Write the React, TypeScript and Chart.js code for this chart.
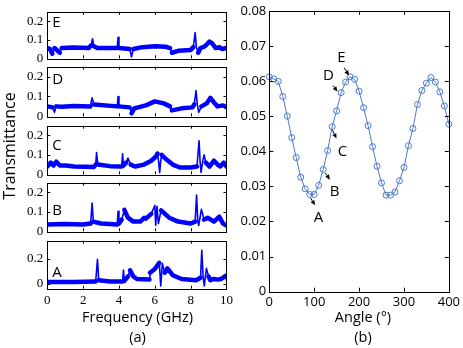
import React, { useEffect, useRef } from 'react';
import { Chart, registerables } from 'chart.js';
Chart.register(...registerables);

const W = 463;
const H = 348;
const SANS = 'Open Sans';
const SERIF = 'Liberation Serif';
const BLUE = '#0000ff';
const LIGHT = '#4a78d2';

// ---- Panel (a): transmittance spectra, frequency in GHz ----
const freqE = [0, 0.15, 0.28, 0.4, 0.7, 0.8, 1.5, 2.3, 2.45, 2.52, 2.6, 2.8, 3.9, 3.95, 4.0, 4.6, 4.7, 4.8, 5.3, 6.0, 6.6, 6.85, 6.95, 7.3, 8.0, 8.15, 8.25, 8.32, 8.42, 8.55, 8.8, 9.05, 9.2, 9.4, 9.6, 9.75, 10];
const transE = [0.055, 0.05, 0.025, 0.055, 0.03, 0.055, 0.058, 0.055, 0.07, 0.105, 0.065, 0.055, 0.055, 0.113, 0.055, 0.05, 0.008, 0.05, 0.06, 0.065, 0.062, 0.055, 0.03, 0.04, 0.045, 0.06, 0.138, 0.06, 0.03, 0.055, 0.065, 0.09, 0.08, 0.055, 0.06, 0.05, 0.055];

const freqD = [0, 0.3, 0.4, 0.5, 0.8, 1.5, 2.4, 2.5, 2.6, 3.9, 3.95, 4.0, 4.6, 4.7, 4.85, 5.5, 6.0, 6.5, 6.85, 6.95, 7.5, 8.1, 8.2, 8.3, 8.37, 8.45, 8.6, 8.9, 9.1, 9.3, 9.5, 9.8, 10];
const transD = [0.05, 0.045, 0.02, 0.05, 0.048, 0.052, 0.05, 0.093, 0.06, 0.05, 0.1, 0.05, 0.045, 0.015, 0.04, 0.055, 0.075, 0.065, 0.05, 0.03, 0.04, 0.045, 0.06, 0.13, 0.06, 0.02, 0.05, 0.065, 0.093, 0.07, 0.05, 0.055, 0.045];

const freqC = [0, 0.2, 0.35, 0.5, 0.7, 1.0, 1.5, 2.6, 2.7, 2.75, 2.82, 3.5, 4.15, 4.2, 4.25, 4.4, 4.5, 4.65, 4.9, 5.4, 5.8, 6.05, 6.15, 6.22, 6.27, 6.32, 6.38, 6.6, 7.0, 7.4, 8.0, 8.35, 8.47, 8.53, 8.58, 8.66, 8.75, 8.85, 9.05, 9.3, 9.5, 9.65, 9.85, 10];
const transC = [0.04, 0.06, 0.045, 0.065, 0.045, 0.045, 0.04, 0.038, 0.05, 0.112, 0.05, 0.042, 0.04, 0.105, 0.045, 0.06, 0.083, 0.05, 0.04, 0.05, 0.07, 0.09, 0.107, 0.06, 0.008, 0.06, 0.1, 0.08, 0.05, 0.035, 0.035, 0.04, 0.172, 0.06, 0.01, 0.06, 0.1, 0.06, 0.04, 0.07, 0.05, 0.04, 0.06, 0.04];

const freqB = [0, 1.0, 2.0, 2.42, 2.5, 2.57, 3.0, 3.9, 3.95, 4.0, 4.15, 4.3, 4.5, 4.8, 5.2, 5.4, 5.5, 5.8, 6.0, 6.05, 6.12, 6.2, 6.35, 6.8, 7.3, 8.0, 8.25, 8.33, 8.4, 8.45, 8.6, 8.75, 8.95, 9.3, 9.6, 9.8, 10];
const transB = [0.035, 0.037, 0.035, 0.04, 0.145, 0.05, 0.04, 0.035, 0.103, 0.04, 0.06, 0.11, 0.07, 0.05, 0.05, 0.07, 0.065, 0.09, 0.133, 0.03, 0.128, 0.04, 0.108, 0.07, 0.05, 0.04, 0.05, 0.187, 0.05, 0.03, 0.113, 0.06, 0.07, 0.05, 0.075, 0.04, 0.03];

const freqA = [0, 1.5, 2.7, 2.8, 2.87, 3.5, 4.2, 4.25, 4.3, 4.5, 4.62, 4.8, 5.0, 5.7, 5.73, 6.0, 6.25, 6.33, 6.42, 6.55, 6.7, 7.0, 7.5, 8.3, 8.55, 8.62, 8.7, 8.76, 8.88, 9.0, 9.1, 9.3, 9.5, 9.7, 9.93, 10];
const transA = [0.015, 0.015, 0.02, 0.197, 0.03, 0.02, 0.02, 0.112, 0.025, 0.06, 0.11, 0.06, 0.04, 0.035, 0.09, 0.12, 0.17, -0.015, 0.165, 0.09, 0.125, 0.07, 0.04, 0.03, 0.05, 0.27, 0.05, -0.015, 0.125, 0.06, 0.03, 0.04, 0.035, 0.04, 0.064, 0.03];

const freqTicks = [0, 2, 4, 6, 8, 10];

// ---- Panel (b): transmittance vs angle ----
const angles = [0, 10, 20, 30, 40, 50, 60, 70, 80, 90, 100, 110, 120, 130, 140, 150, 160, 170, 180, 190, 200, 210, 220, 230, 240, 250, 260, 270, 280, 290, 300, 310, 320, 330, 340, 350, 360, 370, 380, 390, 400];
const angleTrans = [0.0612, 0.0606, 0.0599, 0.0556, 0.05, 0.0439, 0.0382, 0.0326, 0.0293, 0.0277, 0.0277, 0.0303, 0.0348, 0.0402, 0.047, 0.0515, 0.0567, 0.0597, 0.0612, 0.0605, 0.0571, 0.0524, 0.0473, 0.0413, 0.0357, 0.031, 0.0275, 0.0275, 0.0284, 0.0316, 0.0354, 0.0416, 0.0465, 0.0533, 0.0573, 0.0594, 0.061, 0.0597, 0.0569, 0.0529, 0.0477];

const markLabels = ['A', 'B', 'C', 'D', 'E'];
const markLabelAngle = [109.4, 145.3, 162.9, 132, 160.6];
const markLabelValue = [0.0211, 0.0284, 0.04, 0.0614, 0.0666];
const arrowFromAngle = [91.7, 124.8, 140.8, 142, 166.6];
const arrowFromValue = [0.0267, 0.0338, 0.046, 0.0587, 0.0638];
const arrowToAngle = [102.1, 135.1, 149.6, 152, 177.6];
const arrowToValue = [0.0246, 0.0319, 0.0436, 0.057, 0.0616];

// ---- plugins ----
const boxPlugin = {
  id: 'box',
  afterDraw(chart: any, _a: any, opts: any) {
    const { ctx, chartArea: a, scales } = chart;
    const L = opts.len || 3;
    ctx.save();
    ctx.strokeStyle = '#000';
    ctx.lineWidth = 1;
    ctx.beginPath();
    const sx = scales.x;
    for (const t of sx.ticks) {
      const px = Math.round(sx.getPixelForValue(t.value)) + 0.5;
      if (px <= a.left + 1.5 || px >= a.right - 1.5) continue;
      ctx.moveTo(px, a.bottom);
      ctx.lineTo(px, a.bottom - L);
      ctx.moveTo(px, a.top);
      ctx.lineTo(px, a.top + L);
    }
    const sy = scales.y;
    for (const t of sy.ticks) {
      const py = Math.round(sy.getPixelForValue(t.value)) + 0.5;
      if (py <= a.top + 1.5 || py >= a.bottom - 1.5) continue;
      ctx.moveTo(a.left, py);
      ctx.lineTo(a.left + L, py);
      ctx.moveTo(a.right, py);
      ctx.lineTo(a.right - L, py);
    }
    ctx.stroke();
    ctx.strokeRect(Math.round(a.left) + 0.5, Math.round(a.top) + 0.5, Math.round(a.right - a.left), Math.round(a.bottom - a.top));
    ctx.restore();
  },
};

const notesPlugin = {
  id: 'notes',
  afterDraw(chart: any, _a: any, opts: any) {
    const { ctx, scales } = chart;
    ctx.save();
    ctx.fillStyle = '#000';
    ctx.strokeStyle = '#000';
    for (const it of opts.texts || []) {
      const x = it.data ? scales.x.getPixelForValue(it.x) : it.x;
      const y = it.data ? scales.y.getPixelForValue(it.y) : it.y;
      ctx.save();
      ctx.font = it.font || `15px "${SANS}"`;
      ctx.textAlign = it.align || 'center';
      ctx.textBaseline = 'middle';
      ctx.translate(x, y);
      if (it.rot) ctx.rotate(it.rot);
      ctx.fillText(it.text, 0, 0);
      ctx.restore();
    }
    for (const ar of opts.arrows || []) {
      const x1 = scales.x.getPixelForValue(ar.x1);
      const y1 = scales.y.getPixelForValue(ar.y1);
      const x2 = scales.x.getPixelForValue(ar.x2);
      const y2 = scales.y.getPixelForValue(ar.y2);
      const ang = Math.atan2(y2 - y1, x2 - x1);
      const hl = 5, hw = 2.2;
      const bx = x2 - hl * Math.cos(ang), by = y2 - hl * Math.sin(ang);
      ctx.lineWidth = 1;
      ctx.beginPath();
      ctx.moveTo(x1, y1);
      ctx.lineTo(bx, by);
      ctx.stroke();
      ctx.beginPath();
      ctx.moveTo(x2, y2);
      ctx.lineTo(bx + hw * Math.sin(ang), by - hw * Math.cos(ang));
      ctx.lineTo(bx - hw * Math.sin(ang), by + hw * Math.cos(ang));
      ctx.closePath();
      ctx.fill();
    }
    ctx.restore();
  },
};

type PanelDef = {
  freq: number[];
  vals: number[];
  min: number;
  max: number;
  top: number;
  bottom: number;
  letter: string;
  letterY: number;
  showX: boolean;
};

const LEFT_A = 47.3;
const RIGHT_A = 226.5;

const panels: PanelDef[] = [
  { freq: freqE, vals: transE, min: 0, max: 0.25, top: 8, bottom: 58.3, letter: 'E', letterY: 0.19, showX: false },
  { freq: freqD, vals: transD, min: 0, max: 0.25, top: 66.7, bottom: 116.3, letter: 'D', letterY: 0.184, showX: false },
  { freq: freqC, vals: transC, min: 0, max: 0.25, top: 125.7, bottom: 174.3, letter: 'C', letterY: 0.147, showX: false },
  { freq: freqB, vals: transB, min: 0, max: 0.25, top: 182.7, bottom: 231.3, letter: 'B', letterY: 0.108, showX: false },
  { freq: freqA, vals: transA, min: -0.038, max: 0.347, top: 240.7, bottom: 288.7, letter: 'A', letterY: 0.088, showX: true },
];

// thick "noise band" on flat parts, thin stroke on steep narrow resonances
const segWidth = (ctx: any) => {
  const a = ctx.p0, b = ctx.p1;
  const dx = Math.abs(b.x - a.x) || 0.01;
  const dy = Math.abs(b.y - a.y);
  return dy / dx > 2.2 ? 1.6 : 4.5;
};

function panelConfig(p: PanelDef): any {
  return {
    type: 'line',
    data: {
      datasets: [
        {
          data: p.freq.map((f, i) => ({ x: f, y: p.vals[i] })),
          borderColor: BLUE,
          borderWidth: 4.5,
          borderJoinStyle: 'round',
          borderCapStyle: 'round',
          segment: { borderWidth: segWidth },
          pointRadius: 0,
          tension: 0,
          fill: false,
        },
      ],
    },
    options: {
      animation: false,
      responsive: false,
      events: [],
      layout: { padding: { left: 0, top: p.top, right: W - RIGHT_A, bottom: 0 } },
      plugins: {
        legend: { display: false },
        tooltip: { enabled: false },
        box: { len: 3 },
        notes: { texts: [{ text: p.letter, x: 0.28, y: p.letterY, data: true, align: 'left', font: `15px "${SANS}"` }] },
      },
      scales: {
        x: {
          type: 'linear',
          min: 0,
          max: 10,
          afterBuildTicks: (s: any) => { s.ticks = freqTicks.map((v) => ({ value: v })); },
          ticks: { display: p.showX, font: { family: SERIF, size: 13 }, color: '#000', padding: 4, maxRotation: 0, autoSkip: false },
          grid: { display: false, drawTicks: false },
          border: { display: false },
          afterFit: (s: any) => { s.height = H - p.bottom; },
        },
        y: {
          type: 'linear',
          min: p.min,
          max: p.max,
          ticks: { stepSize: 0.1, includeBounds: false, font: { family: SERIF, size: 13 }, color: '#000', padding: 4 },
          grid: { display: false, drawTicks: false },
          border: { display: false },
          afterFit: (s: any) => { s.width = LEFT_A; },
        },
      },
    },
    plugins: [boxPlugin, notesPlugin],
  };
}

const LEFT_B = 269.3;
const RIGHT_B = 451;
const TOP_B = 7.3;
const BOTTOM_B = 291.7;

function angleConfig(): any {
  const texts: any[] = markLabels.map((t, i) => ({ text: t, x: markLabelAngle[i], y: markLabelValue[i], data: true }));
  texts.push({ text: 'Transmittance', x: 10, y: 146, rot: -Math.PI / 2, font: `16px "${SANS}"` });
  texts.push({ text: 'Frequency (GHz)', x: 137.5, y: 318, font: `14.5px "${SANS}"` });
  texts.push({ text: '(a)', x: 137.5, y: 338, font: `14.5px "${SANS}"` });
  texts.push({ text: 'Angle (\u00B0)', x: 363, y: 318, font: `14.5px "${SANS}"` });
  texts.push({ text: '(b)', x: 363, y: 338, font: `14.5px "${SANS}"` });
  const arrows = markLabels.map((_, i) => ({ x1: arrowFromAngle[i], y1: arrowFromValue[i], x2: arrowToAngle[i], y2: arrowToValue[i] }));
  return {
    type: 'line',
    data: {
      datasets: [
        {
          data: angles.map((a, i) => ({ x: a, y: angleTrans[i] })),
          borderColor: LIGHT,
          borderWidth: 1,
          pointRadius: 3,
          pointStyle: 'circle',
          pointBackgroundColor: 'rgba(0,0,0,0)',
          pointBorderColor: LIGHT,
          pointBorderWidth: 1,
          tension: 0,
          clip: false,
        },
      ],
    },
    options: {
      animation: false,
      responsive: false,
      events: [],
      layout: { padding: { left: 0, top: TOP_B, right: W - RIGHT_B, bottom: 0 } },
      plugins: {
        legend: { display: false },
        tooltip: { enabled: false },
        box: { len: 4 },
        notes: { texts, arrows },
      },
      scales: {
        x: {
          type: 'linear',
          min: 0,
          max: 400,
          ticks: { stepSize: 100, font: { family: SANS, size: 13 }, color: '#000', padding: 3, maxRotation: 0 },
          grid: { display: false, drawTicks: false },
          border: { display: false },
          afterFit: (s: any) => { s.height = H - BOTTOM_B; },
        },
        y: {
          type: 'linear',
          min: 0,
          max: 0.08,
          ticks: { stepSize: 0.01, font: { family: SANS, size: 13 }, color: '#000', padding: 3 },
          grid: { display: false, drawTicks: false },
          border: { display: false },
          afterFit: (s: any) => { s.width = LEFT_B; },
        },
      },
    },
    plugins: [boxPlugin, notesPlugin],
  };
}

export default function App() {
  const refs = useRef<(HTMLCanvasElement | null)[]>([]);
  useEffect(() => {
    const charts: Chart[] = [];
    panels.forEach((p, i) => {
      const c = refs.current[i];
      if (c) charts.push(new Chart(c, panelConfig(p)));
    });
    const c = refs.current[panels.length];
    if (c) charts.push(new Chart(c, angleConfig()));
    return () => charts.forEach((ch) => ch.destroy());
  }, []);
  const canvases = [];
  for (let i = 0; i <= panels.length; i++) {
    canvases.push(
      <canvas
        key={i}
        ref={(el) => { refs.current[i] = el; }}
        width={W}
        height={H}
        style={{ position: 'absolute', left: 0, top: 0, width: W, height: H }}
      />
    );
  }
  return (
    <div style={{ position: 'absolute', left: 0, top: 0, width: W, height: H, background: '#fff' }}>
      {canvases}
    </div>
  );
}
